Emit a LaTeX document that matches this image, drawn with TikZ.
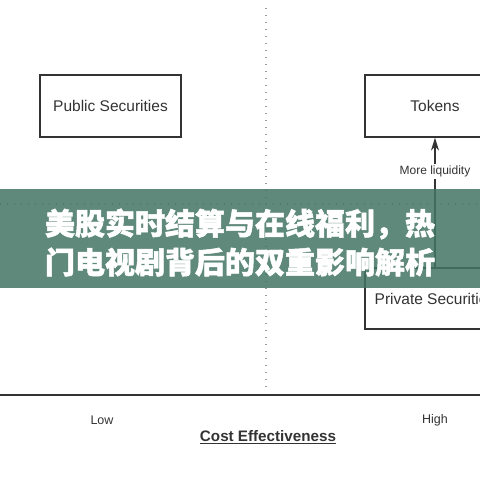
\documentclass[tikz,border=0pt]{standalone}
\usepackage{fontspec}
\setmainfont{Liberation Sans}
\newfontfamily\cjk[BoldFeatures={FakeBold=1.6}]{Noto Sans CJK SC}
\usetikzlibrary{arrows.meta}
\definecolor{ink}{HTML}{333333}
\definecolor{dotgray}{HTML}{999999}
\definecolor{banner}{RGB}{67,118,101}
\tikzset{
  boxnode/.style={draw=ink, line width=1.3pt, minimum width=141pt, minimum height=62pt, inner sep=0pt, text=ink, font=\fontsize{15.5}{18}\selectfont},
  dotline/.style={draw=dotgray, line width=1.3pt, dash pattern=on 1.3pt off 5.7pt},
  axislabel/.style={text=ink, font=\fontsize{12.5}{15}\selectfont, inner sep=0pt},
  arrowline/.style={draw=ink, line width=1.2pt},
}
\begin{document}
\begin{tikzpicture}[x=1pt,y=-1pt]
\useasboundingbox (0,0) rectangle (480,480);
\fill[white] (0,0) rectangle (480,480);
% dotted quadrant lines
\coordinate (vt) at (266,8);
\coordinate (vb) at (266,388);
\coordinate (hl) at (0,204);
\coordinate (hr) at (480,204);
\draw[dotline] (vt) -- (vb);
\draw[dotline] (hl) -- (hr);
% boxes
\node[boxnode] (pub) at (110.5,106) {Public Securities};
\node[boxnode, minimum width=140pt] (tok) at (435,106) {Tokens};
\node[boxnode, minimum width=140pt, minimum height=61pt] (priv) at (435,298.5) {Private Securities};
% arrow
\draw[arrowline, -{Stealth[length=13pt,width=8pt]}] (priv.north) -- node[pos=0.74, fill=white, inner sep=2pt, text=ink, font=\fontsize{12}{14}\selectfont] {More liquidity} (tok.south);
% axis
\coordinate (al) at (0,395);
\coordinate (ar) at (480,395);
\draw[draw=ink, line width=2pt] (al) -- (ar);
\node[axislabel] (low) at (102,420) {Low};
\node[axislabel] (high) at (435,420) {High};
\node[text=ink, font=\bfseries\fontsize{15.2}{18}\selectfont, inner sep=0pt] (cost) at (268,437) {\underline{Cost Effectiveness}};
% banner
\fill[banner, fill opacity=0.85] (0,189) rectangle (480,288);
\node[text=white, font=\cjk\bfseries\fontsize{30}{38}\selectfont, inner sep=0pt] (t1) at (240,224) {美股实时结算与在线福利，热};
\node[text=white, font=\cjk\bfseries\fontsize{30}{38}\selectfont, inner sep=0pt] (t2) at (240,262) {门电视剧背后的双重影响解析};
\end{tikzpicture}
\end{document}
